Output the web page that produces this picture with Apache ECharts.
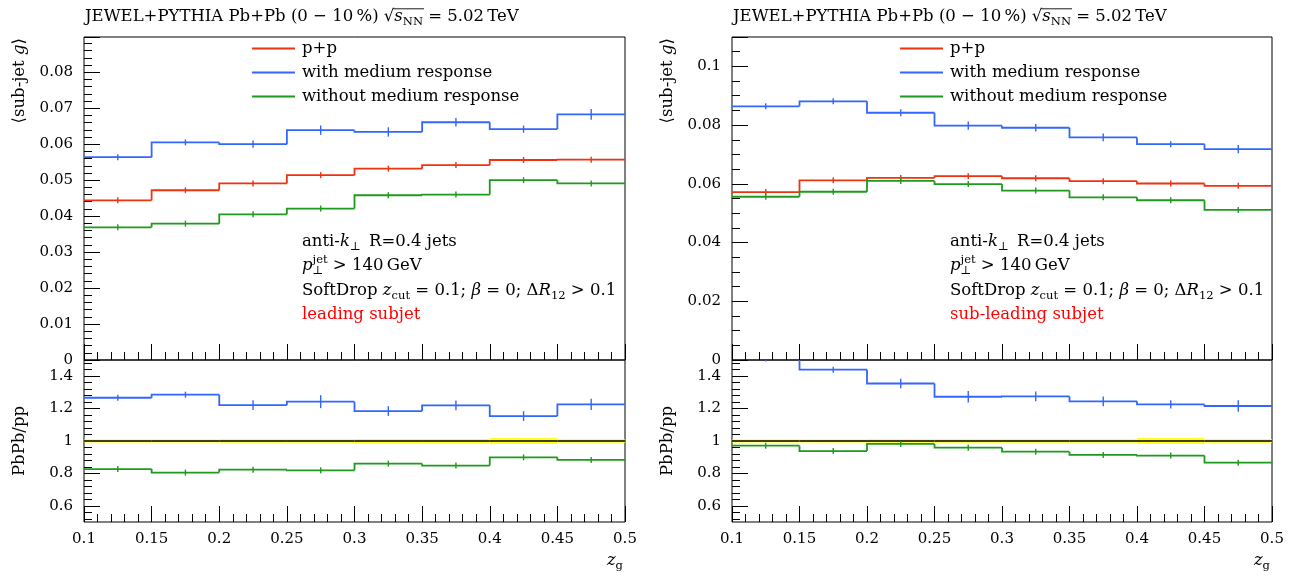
<!DOCTYPE html>
<html><head><meta charset="utf-8">
<script src="https://cdn.jsdelivr.net/npm/echarts@6/dist/echarts.min.js"></script>
<style>html,body{margin:0;padding:0;background:#fff;}#c{width:1293px;height:577px;}</style>
</head><body><div id="c"></div>
<script>
// ---- data ----
const zEdges = [0.1, 0.15, 0.2, 0.25, 0.3, 0.35, 0.4, 0.45, 0.5];
const seriesNames = ['p+p', 'with medium response', 'without medium response'];
const ratioMajorTicks = [0.6, 0.8, 1, 1.2, 1.4];
const ratioMinorTicks = [0.52,0.56,0.64,0.68,0.72,0.76,0.84,0.88,0.92,0.96,1.04,1.08,1.12,1.16,1.24,1.28,1.32,1.36,1.44,1.48];

// leading subjet (left)
const leadPP = [0.0444, 0.0472, 0.0491, 0.0514, 0.0532, 0.0542, 0.0556, 0.0557];
const leadPPErr = [0.0002, 0.0002, 0.0002, 0.0002, 0.0002, 0.0002, 0.0002, 0.0002];
const leadMed = [0.0564, 0.0605, 0.0600, 0.0639, 0.0634, 0.0661, 0.0642, 0.0683];
const leadMedErr = [0.0003, 0.0005, 0.0010, 0.0013, 0.0013, 0.0012, 0.0010, 0.0015];
const leadNoMed = [0.0369, 0.0379, 0.0405, 0.0421, 0.0458, 0.0460, 0.0500, 0.0491];
const leadNoMedErr = [0.0002, 0.0003, 0.0003, 0.0004, 0.0003, 0.0003, 0.0006, 0.0004];
const leadRatioMed = [1.267, 1.286, 1.222, 1.243, 1.185, 1.220, 1.154, 1.226];
const leadRatioMedErr = [0.010, 0.015, 0.030, 0.040, 0.030, 0.030, 0.030, 0.035];
const leadRatioNoMed = [0.827, 0.805, 0.823, 0.819, 0.860, 0.848, 0.899, 0.883];
const leadRatioNoMedErr = [0.005, 0.005, 0.008, 0.010, 0.010, 0.008, 0.015, 0.010];
const leadPPBand = [0.010, 0.010, 0.011, 0.011, 0.013, 0.013, 0.019, 0.011];

// sub-leading subjet (right)
const subPP = [0.0572, 0.0612, 0.0620, 0.0626, 0.0619, 0.0609, 0.0601, 0.0593];
const subPPErr = [0.0002, 0.0002, 0.0002, 0.0002, 0.0002, 0.0002, 0.0002, 0.0002];
const subMed = [0.0864, 0.0881, 0.0842, 0.0798, 0.0791, 0.0758, 0.0735, 0.0718];
const subMedErr = [0.0004, 0.0005, 0.0012, 0.0014, 0.0013, 0.0013, 0.0010, 0.0014];
const subNoMed = [0.0556, 0.0573, 0.0610, 0.0599, 0.0577, 0.0554, 0.0544, 0.0511];
const subNoMedErr = [0.0002, 0.0003, 0.0005, 0.0005, 0.0005, 0.0003, 0.0006, 0.0004];
const subRatioMed = [1.51, 1.44, 1.355, 1.273, 1.275, 1.245, 1.226, 1.216];
const subRatioMedErr = [0.010, 0.010, 0.030, 0.035, 0.030, 0.030, 0.025, 0.035];
const subRatioNoMed = [0.971, 0.938, 0.982, 0.959, 0.934, 0.914, 0.910, 0.866];
const subRatioNoMedErr = [0.004, 0.005, 0.010, 0.010, 0.008, 0.008, 0.012, 0.010];
const subPPBand = [0.010, 0.010, 0.011, 0.011, 0.011, 0.011, 0.019, 0.011];

// ---- style ----
const FONT = '"DejaVu Serif", "Liberation Serif", serif';
const RED = '#EE3311', BLUE = '#3366FF', GREEN = '#1E9A1E';
const FS = 16.5, LFS = 15;

const chart = echarts.init(document.getElementById('c'), null, {renderer: 'canvas'});

const P = [
  {left: 84, width: 541},
  {left: 732, width: 540}
];
const TOP = 37, TOPH = 323, BOTH = 162;

const grids = [];
P.forEach(p => {
  grids.push({left: p.left, width: p.width, top: TOP, height: TOPH, show: true, borderColor: '#000', borderWidth: 1, backgroundColor: 'transparent'});
  grids.push({left: p.left, width: p.width, top: TOP + TOPH, height: BOTH, show: true, borderColor: '#000', borderWidth: 1, backgroundColor: 'transparent'});
});

function xAx(g, labels) {
  return {
    type: 'value', gridIndex: g, position: 'bottom', min: 0.1, max: 0.5, interval: 0.05,
    axisLine: {show: false, onZero: false},
    axisTick: {show: true, inside: true, length: 16, lineStyle: {color: '#000', width: 1}},
    minorTick: {show: true, splitNumber: 5, length: 8, lineStyle: {color: '#000', width: 1}},
    splitLine: {show: false}, minorSplitLine: {show: false},
    axisLabel: {show: labels, margin: 10, fontFamily: FONT, fontSize: LFS, color: '#000',
      formatter: v => String(+v.toFixed(2))}
  };
}
const xAxes = [xAx(0, false), xAx(1, true), xAx(2, false), xAx(3, true)];

function yTop(g, max, interval, split) {
  return {
    type: 'value', gridIndex: g, position: 'left', min: 0, max: max, interval: interval,
    axisLine: {show: false, onZero: false},
    axisTick: {show: true, inside: true, length: 16, lineStyle: {color: '#000'}},
    minorTick: {show: true, splitNumber: split, length: 8, lineStyle: {color: '#000'}},
    splitLine: {show: false}, minorSplitLine: {show: false},
    axisLabel: {margin: 11, fontFamily: FONT, fontSize: LFS, color: '#000', showMaxLabel: false,
      formatter: v => String(+v.toFixed(3))}
  };
}
function yRatio(g, minor) {
  return {
    type: 'value', gridIndex: g, position: 'left', offset: 0, min: 0.5, max: 1.5,
    axisLine: {show: false, onZero: false},
    axisTick: {show: true, inside: true, length: minor ? 8 : 16, lineStyle: {color: '#000'},
      customValues: minor ? ratioMinorTicks : ratioMajorTicks},
    splitLine: {show: false},
    axisLabel: minor ? {show: false} : {margin: 11, fontFamily: FONT, fontSize: LFS, color: '#000',
      customValues: ratioMajorTicks, formatter: v => String(+v.toFixed(2))}
  };
}
const yAxes = [
  yTop(0, 0.0898, 0.01, 5), yRatio(1, false), yTop(2, 0.11, 0.02, 4), yRatio(3, false),
  yRatio(1, true), yRatio(3, true)
];

// histogram drawn bin by bin: horizontal top plus vertical connector from previous bin
function stepSeries(name, vals, color, g, y, width) {
  return {
    type: 'custom', name: name, xAxisIndex: g, yAxisIndex: y, clip: true, animation: false, silent: true, z: 3,
    itemStyle: {color: color},
    data: vals.map((v, i) => [zEdges[i], zEdges[i + 1], v, i > 0 ? vals[i - 1] : v]),
    renderItem: (params, api) => {
      const a = api.coord([api.value(0), api.value(3)]);
      const b = api.coord([api.value(0), api.value(2)]);
      const c = api.coord([api.value(1), api.value(2)]);
      return {type: 'polyline', shape: {points: [a, b, c]},
        style: {stroke: color, fill: null, lineWidth: width || 1.8, lineJoin: 'miter', lineCap: 'butt'}};
    }
  };
}
function errSeries(vals, errs, color, g, y) {
  return {
    type: 'custom', name: 'err', xAxisIndex: g, yAxisIndex: y, clip: true, animation: false, silent: true, z: 4,
    data: vals.map((v, i) => [(zEdges[i] + zEdges[i + 1]) / 2, v, errs[i]]),
    renderItem: (params, api) => {
      const c = api.coord([api.value(0), api.value(1)]);
      const hi = api.coord([api.value(0), api.value(1) + api.value(2)]);
      const lo = api.coord([api.value(0), api.value(1) - api.value(2)]);
      const y1 = Math.min(hi[1], c[1] - 3), y2 = Math.max(lo[1], c[1] + 3);
      return {type: 'line', shape: {x1: c[0], y1: y1, x2: c[0], y2: y2}, style: {stroke: color, lineWidth: 1.4}};
    }
  };
}
function bandSeries(errs, g, y) {
  return {
    type: 'custom', name: 'band', xAxisIndex: g, yAxisIndex: y, clip: true, animation: false, silent: true, z: 1,
    data: errs.map((e, i) => [zEdges[i], zEdges[i + 1], e]),
    renderItem: (params, api) => {
      const a = api.coord([api.value(0), 1 + api.value(2)]);
      const b = api.coord([api.value(1), 1 - api.value(2)]);
      return {type: 'rect', shape: {x: a[0], y: a[1], width: b[0] - a[0], height: b[1] - a[1]}, style: {fill: '#FFFF22'}};
    }
  };
}
const ones = zEdges.slice(0, 8).map(() => 1);

const series = [
  stepSeries(seriesNames[0], leadPP, RED, 0, 0),
  stepSeries(seriesNames[1], leadMed, BLUE, 0, 0),
  stepSeries(seriesNames[2], leadNoMed, GREEN, 0, 0),
  errSeries(leadPP, leadPPErr, RED, 0, 0),
  errSeries(leadMed, leadMedErr, BLUE, 0, 0),
  errSeries(leadNoMed, leadNoMedErr, GREEN, 0, 0),
  bandSeries(leadPPBand, 1, 1),
  stepSeries('ref', ones, '#000', 1, 1, 1.4),
  stepSeries(seriesNames[1], leadRatioMed, BLUE, 1, 1),
  stepSeries(seriesNames[2], leadRatioNoMed, GREEN, 1, 1),
  errSeries(leadRatioMed, leadRatioMedErr, BLUE, 1, 1),
  errSeries(leadRatioNoMed, leadRatioNoMedErr, GREEN, 1, 1),

  stepSeries(seriesNames[0], subPP, RED, 2, 2),
  stepSeries(seriesNames[1], subMed, BLUE, 2, 2),
  stepSeries(seriesNames[2], subNoMed, GREEN, 2, 2),
  errSeries(subPP, subPPErr, RED, 2, 2),
  errSeries(subMed, subMedErr, BLUE, 2, 2),
  errSeries(subNoMed, subNoMedErr, GREEN, 2, 2),
  bandSeries(subPPBand, 3, 3),
  stepSeries('ref', ones, '#000', 3, 3, 1.4),
  stepSeries(seriesNames[1], subRatioMed, BLUE, 3, 3),
  stepSeries(seriesNames[2], subRatioNoMed, GREEN, 3, 3),
  errSeries(subRatioMed, subRatioMedErr, BLUE, 3, 3),
  errSeries(subRatioNoMed, subRatioNoMedErr, GREEN, 3, 3)
];

// ---- text helpers ----
const mctx = document.createElement('canvas').getContext('2d');
function fontStr(size, italic) { return (italic ? 'italic ' : '') + size + 'px ' + FONT; }
function tw(t, size, italic) { mctx.font = fontStr(size, italic); return mctx.measureText(t).width; }
function piece(t, x, base, size, italic, color) {
  return {type: 'text', x: x, y: base - 0.33 * size, silent: true, z: 10,
    style: {text: t, font: fontStr(size, italic), fill: color, align: 'left', verticalAlign: 'middle'}};
}
function textLine(x, base, parts, size, color, out) {
  let cx = x;
  const spans = [];
  parts.forEach(p => {
    const t = p[0], k = p[1];
    const s2 = size * 0.7;
    if (k === 'n' || k === 'i') {
      const w = tw(t, size, k === 'i');
      out.push(piece(t, cx, base, size, k === 'i', color)); spans.push([cx, cx + w]);
      cx += w;
    } else if (k === 'sub') {
      const w = tw(t, s2, false);
      out.push(piece(t, cx, base + size * 0.22, s2, false, color)); spans.push([cx, cx + w]);
      cx += w;
    } else if (k === 'sup') {
      const w = tw(t, s2, false);
      out.push(piece(t, cx, base - size * 0.38, s2, false, color)); spans.push([cx, cx + w]);
      cx += w;
    } else if (k === 'stack') {
      out.push(piece(p[2], cx, base - size * 0.45, s2, false, color));
      out.push(piece(p[3], cx, base + size * 0.22, s2, false, color));
      const w = Math.max(tw(p[2], s2), tw(p[3], s2));
      spans.push([cx, cx + w]);
      cx += w;
    }
  });
  return {end: cx, spans: spans};
}
function lineWidth(parts, size) {
  let w = 0;
  parts.forEach(p => {
    const s2 = size * 0.7;
    if (p[1] === 'n' || p[1] === 'i') w += tw(p[0], size, p[1] === 'i');
    else if (p[1] === 'stack') w += Math.max(tw(p[2], s2), tw(p[3], s2));
    else w += tw(p[0], s2);
  });
  return w;
}

const graphics = [];
const titleParts = [['JEWEL+PYTHIA Pb+Pb (0 \u2212 10\u2009%) ', 'n'], ['\u221A', 'n'], ['s', 'i'], ['NN', 'sub'], [' = 5.02\u2009TeV', 'n']];
const annot1 = [['anti-', 'n'], ['k', 'i'], ['\u22A5', 'sub'], ['\u2002R=0.4 jets', 'n']];
const annot2 = [['p', 'i'], ['', 'stack', 'jet', '\u22A5'], [' > 140\u2009GeV', 'n']];
const annot3 = [['SoftDrop ', 'n'], ['z', 'i'], ['cut', 'sub'], [' = 0.1; ', 'n'], ['\u03B2', 'i'], [' = 0; \u0394', 'n'], ['R', 'i'], ['12', 'sub'], [' > 0.1', 'n']];
const tags = ['leading subjet', 'sub-leading subjet'];

P.forEach((p, k) => {
  const off = p.left - 84;
  const r = textLine(85 + off, 22, titleParts, FS, '#000', graphics);
  const s0 = r.spans[2][0], s1 = r.spans[3][1];
  graphics.push({type: 'line', silent: true, z: 10, shape: {x1: s0 - 1, y1: 22 - FS * 0.8, x2: s1 + 1, y2: 22 - FS * 0.8}, style: {stroke: '#000', lineWidth: 0.9}});
  const ax = 302 + off;
  textLine(ax, 247, annot1, FS, '#000', graphics);
  textLine(ax, 271, annot2, FS, '#000', graphics);
  textLine(ax, 296, annot3, FS, '#000', graphics);
  textLine(ax, 320, [[tags[k], 'n']], FS, '#FF0000', graphics);
  const zg = [['z', 'i'], ['g', 'sub']];
  const right = p.left + p.width - 2;
  textLine(right - lineWidth(zg, FS), 566, zg, FS, '#000', graphics);
  graphics.push({type: 'text', x: 20 + off, y: 38, rotation: Math.PI / 2, silent: true, z: 10,
    style: {text: '\u27E8sub-jet {i|g}\u27E9', font: fontStr(FS, false), fill: '#000', align: 'right', verticalAlign: 'middle',
      rich: {i: {fontFamily: FONT, fontStyle: 'italic', fontSize: FS, color: '#000'}}}});
  graphics.push({type: 'text', x: 20 + off, y: 441, rotation: Math.PI / 2, silent: true, z: 10,
    style: {text: 'PbPb/pp', font: fontStr(FS, false), fill: '#000', align: 'center', verticalAlign: 'middle'}});
});

const legends = P.map(p => ({
  data: seriesNames, orient: 'vertical', left: p.left + 163, top: 35, itemWidth: 43, itemHeight: 17, itemGap: 7,
  selectedMode: false, icon: 'path://M0,0 L43,0 L43,1.8 L0,1.8 Z',
  textStyle: {fontFamily: FONT, fontSize: FS, color: '#000', padding: [0, 0, 0, 2]}
}));

chart.setOption({
  animation: false,
  backgroundColor: '#fff',
  grid: grids,
  xAxis: xAxes,
  yAxis: yAxes,
  legend: legends,
  series: series,
  graphic: graphics
});
</script>
</body></html>
